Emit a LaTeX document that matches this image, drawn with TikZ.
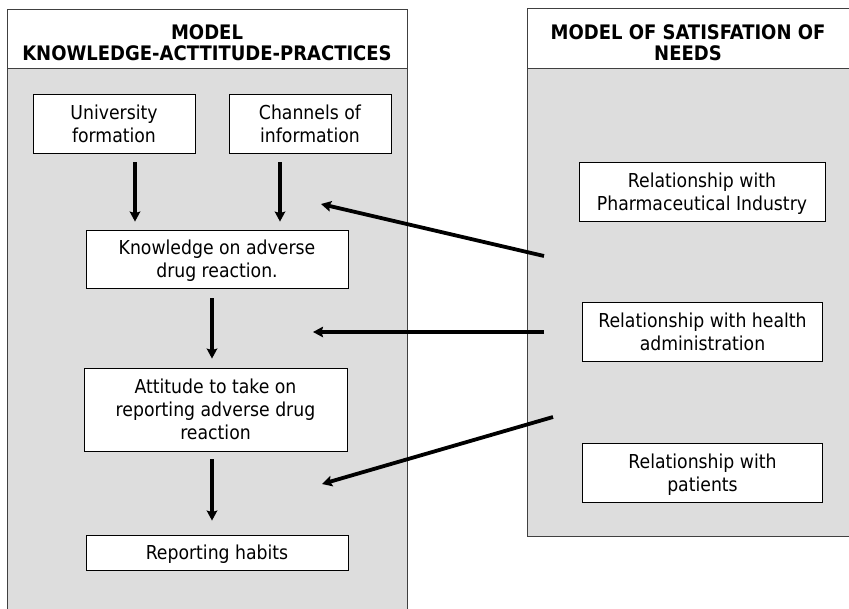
\documentclass[tikz,border=0pt]{standalone}
\usepackage{fontspec}
\setmainfont{DejaVu Sans Condensed}
\usetikzlibrary{arrows.meta}
\definecolor{panelgray}{RGB}{221,221,221}
\newcommand{\boxfont}{\fontsize{19.2}{23}\selectfont}
\newcommand{\headfont}{\fontsize{20}{21}\selectfont\bfseries}
\begin{document}
\begin{tikzpicture}[x=1pt,y=-1pt,
  panel/.style={draw=black!75, line width=0.9pt, fill=panelgray},
  head/.style={draw=black!75, line width=0.9pt, fill=white},
  box/.style={draw=black, fill=white, line width=0.8pt, align=center,
    inner sep=0pt, text depth=0pt, font=\boxfont},
  vflow/.style={line width=3.4pt, -{Stealth[length=10pt,width=10.5pt,inset=1.5pt]}},
  cross/.style={line width=3.8pt, -{Stealth[length=10pt,width=10.5pt,inset=1.5pt]}}]
\useasboundingbox (0,0) rectangle (849,608);

% two model panels with their title bands
\draw[panel] (7,68) rectangle (407,620);
\draw[head] (7,9) rectangle (407,68);
\node[font=\headfont, align=center] (ltitle) at (207,42.5)
  {MODEL\\KNOWLEDGE-ACTTITUDE-PRACTICES};
\draw[panel] (527,68) rectangle (853,536);
\draw[head] (527,8) rectangle (853,68);
\node[font=\headfont, align=center] (rtitle) at (688,42.5)
  {MODEL OF SATISFATION OF\\NEEDS};

% knowledge-attitude-practices chain
\node[box, minimum width=162pt, minimum height=59pt] (uni) at (114,123.5)
  {University\\formation};
\node[box, minimum width=162pt, minimum height=59pt] (chan) at (310,123.5)
  {Channels of\\information};
\node[box, minimum width=262pt, minimum height=58pt] (know) at (217,259)
  {Knowledge on adverse\\drug reaction.};
\node[box, minimum width=263pt, minimum height=83pt] (att) at (215.5,409.5)
  {Attitude to take on\\reporting adverse drug\\reaction};
\node[box, minimum width=262pt, minimum height=35pt] (rep) at (217,552.5)
  {Reporting habits};

% satisfaction of needs
\node[box, minimum width=246pt, minimum height=59pt] (pharma) at (702,191.5)
  {Relationship with\\Pharmaceutical Industry};
\node[box, minimum width=240pt, minimum height=59pt] (health) at (702.5,331.5)
  {Relationship with health\\administration};
\node[box, minimum width=240pt, minimum height=59pt] (pat) at (702.5,472.5)
  {Relationship with\\patients};

% arrow columns
\coordinate (c1) at (135,0);
\coordinate (c2) at (280,0);
\coordinate (c3) at (212,0);
\draw[vflow, shorten <=9pt, shorten >=8pt] (uni.south -| c1) -- (know.north -| c1);
\draw[vflow, shorten <=9pt, shorten >=8pt] (chan.south -| c2) -- (know.north -| c2);
\draw[vflow, shorten <=10pt, shorten >=9pt] (know.south -| c3) -- (att.north -| c3);
\draw[vflow, shorten <=8pt, shorten >=14pt] (att.south -| c3) -- (rep.north -| c3);

% influences between the two models
\coordinate (s1) at (544,256);
\coordinate (e1) at (321,204);
\coordinate (s2) at (544,332);
\coordinate (e2) at (313,332);
\coordinate (s3) at (553,417);
\coordinate (e3) at (322,484);
\draw[cross] (s1) -- (e1);
\draw[cross] (s2) -- (e2);
\draw[cross] (s3) -- (e3);
\end{tikzpicture}
\end{document}
